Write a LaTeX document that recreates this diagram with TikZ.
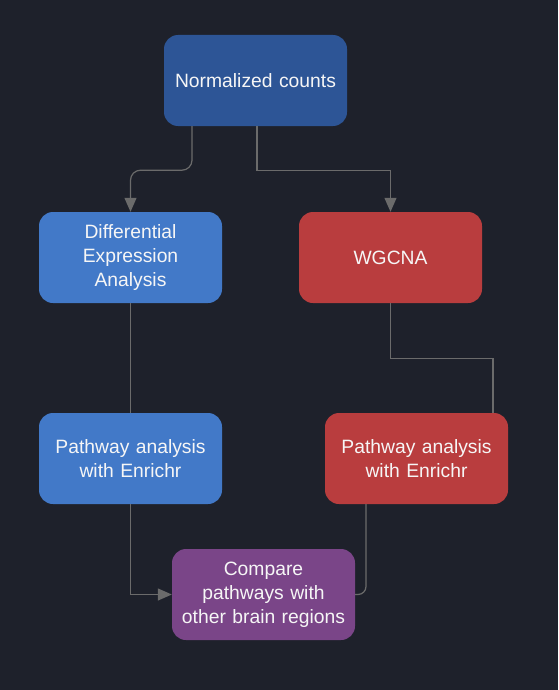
\documentclass[tikz,border=0pt]{standalone}
\usepackage{fontspec}
\setmainfont{Liberation Sans}
\usetikzlibrary{arrows.meta}
\definecolor{bgdark}{HTML}{1E212B}
\definecolor{navybox}{HTML}{2D5596}
\definecolor{bluebox}{HTML}{4279C8}
\definecolor{redbox}{HTML}{B93D3E}
\definecolor{purplebox}{HTML}{7A4588}
\definecolor{wire}{HTML}{6B6B6B}
\begin{document}
\begin{tikzpicture}[x=1pt,y=-1pt,line cap=butt,line join=miter,
	box/.style={rounded corners=14pt,minimum width=183pt,minimum height=91pt,
		text width=176pt,align=center,text=white!93!gray,inner sep=0pt,
		font=\fontsize{19.3}{24}\selectfont},
	wireline/.style={draw=wire,line width=1.2pt},
	tip/.style={-{Triangle[width=12pt,length=14pt]}}]
				\fill[bgdark] (0,0) rectangle (558,690);
				\useasboundingbox (0,0) rectangle (558,690);
				
				\node[box,fill=navybox] (norm) at (255.5,80.5) {Normalized counts};
				\node[box,fill=bluebox] (dea) at (130.5,257.5) {Differential\\Expression\\Analysis};
				\node[box,fill=redbox] (wgcna) at (390.5,257.5) {WGCNA};
				\node[box,fill=bluebox] (pleft) at (130.5,458.5) {Pathway analysis\\with Enrichr};
				\node[box,fill=redbox] (pright) at (416.5,458.5) {Pathway analysis\\with Enrichr};
				\node[box,fill=purplebox] (cmp) at (263.5,594.5) {Compare\\pathways with\\other brain regions};
				
				\draw[wireline,tip,rounded corners=10pt] ([xshift=-63.5pt]norm.south) -- ++(0,44) -| (dea.north);
				\draw[wireline,tip] ([xshift=1.5pt]norm.south) -- ++(0,44) -| (wgcna.north);
				\draw[wireline] (dea.south) -- (pleft.north);
				\draw[wireline] (wgcna.south) -- ++(0,55) -| ([xshift=76.5pt]pright.north);
				\draw[wireline,tip] (pleft.south) |- (cmp.west);
				\draw[wireline,rounded corners=8pt] ([xshift=-50.5pt]pright.south) |- (cmp.east);
			\end{tikzpicture}
\end{document}
